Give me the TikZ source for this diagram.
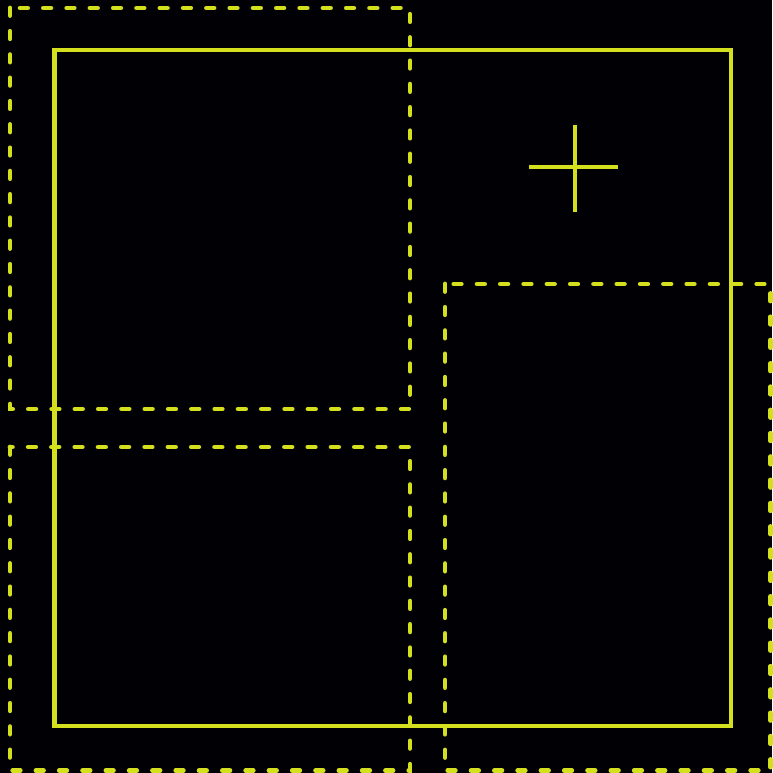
\documentclass[tikz,border=0pt]{standalone}
\begin{document}
\begin{tikzpicture}[x=1pt,y=-1pt,
  ylw/.style={draw=ylwc,line width=4.8pt},
  dsh/.style={ylw,line cap=round,dash pattern=on 7.5pt off 15.8pt}]
\definecolor{ylwc}{HTML}{D4E01E}
\fill[black!98!blue] (0,0) rectangle (772,773);
\useasboundingbox (0,0) rectangle (772,773);
\draw[ylw] (54.5,50) rectangle (731,726);
\draw[dsh] (10,8) rectangle (410,409);
\draw[dsh] (10,447) rectangle (410,770.5);
\draw[dsh] (445,284) rectangle (770.5,770.5);
\draw[ylw,line width=4.2pt] (529,167) -- (618,167);
\draw[ylw,line width=4.2pt] (575,125) -- (575,212);
\end{tikzpicture}
\end{document}
